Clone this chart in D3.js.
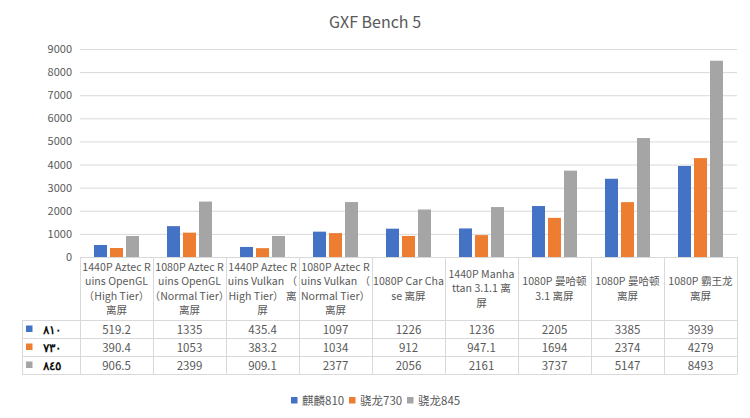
<!DOCTYPE html>
<html lang="zh-CN">
<head>
  <meta charset="utf-8" />
  <title>GXF Bench 5</title>
  <script src="https://cdn.jsdelivr.net/npm/d3@7"></script>
  <style>
    body { margin: 0; background: #fff; }
    text { font-family: "Noto Sans CJK SC", "Noto Sans", sans-serif; fill: #595959; }
  </style>
</head>
<body>
  <div id="chart"></div>
  <script>
    // 分类（表头换行按原图）
    const categoryLines = [
      ["1440P Aztec R", "uins OpenGL", "（High Tier）", "离屏"],
      ["1080P Aztec R", "uins OpenGL", "（Normal Tier）", "离屏"],
      ["1440P Aztec R", "uins Vulkan （", "High Tier） 离", "屏"],
      ["1080P Aztec R", "uins Vulkan （", "Normal Tier）", "离屏"],
      ["1080P Car Cha", "se 离屏"],
      ["1440P Manha", "ttan 3.1.1 离", "屏"],
      ["1080P 曼哈顿", "3.1 离屏"],
      ["1080P 曼哈顿", "离屏"],
      ["1080P 霸王龙", "离屏"]
    ];
    const seriesNames = ["麒麟810", "骁龙730", "骁龙845"];
    const rowLabels = ["٨١٠", "٧٣٠", "٨٤٥"];
    const kirin810 = [519.2, 1335, 435.4, 1097, 1226, 1236, 2205, 3385, 3939];
    const sd730 = [390.4, 1053, 383.2, 1034, 912, 947.1, 1694, 2374, 4279];
    const sd845 = [906.5, 2399, 909.1, 2377, 2056, 2161, 3737, 5147, 8493];
    const yTicks = [0, 1000, 2000, 3000, 4000, 5000, 6000, 7000, 8000, 9000];
    const colors = ["#4472C4", "#ED7D31", "#A5A5A5"];

    const series = [kirin810, sd730, sd845];
    const width = 750, height = 418;
    const marginLeft = 80, marginRight = 13, plotTop = 49, plotBottom = 257;

    const svg = d3.select("#chart").append("svg")
        .attr("width", width).attr("height", height);

    // 标题
    svg.append("text")
        .attr("x", 375).attr("y", 28)
        .attr("text-anchor", "middle")
        .style("font-size", "16px")
        .text("GXF Bench 5");

    const x = d3.scaleBand()
        .domain(d3.range(categoryLines.length))
        .range([marginLeft, width - marginRight]);
    const xInner = d3.scaleBand()
        .domain(d3.range(series.length))
        .range([0, x.bandwidth()])
        .paddingInner(0.1875)
        .paddingOuter(0.875);
    const y = d3.scaleLinear().domain([0, 9000]).range([plotBottom, plotTop]);

    // 网格线和 Y 轴
    svg.append("g")
        .attr("transform", `translate(${marginLeft},0)`)
        .call(d3.axisLeft(y).tickValues(yTicks).tickFormat(d3.format("d")).tickSize(0).tickPadding(8))
        .call(g => g.select(".domain").remove())
        .call(g => g.selectAll(".tick text").style("font-size", "11px").attr("fill", "#595959"))
        .call(g => g.selectAll(".tick line").clone()
            .attr("stroke", "#D9D9D9")
            .attr("x2", width - marginLeft - marginRight));

    // 柱子
    svg.append("g").selectAll("g")
      .data(series)
      .join("g")
        .attr("fill", (d, i) => colors[i])
      .selectAll("rect")
      .data((d, si) => d.map((v, ci) => ({ v, ci, si })))
      .join("rect")
        .attr("x", d => x(d.ci) + xInner(d.si))
        .attr("width", xInner.bandwidth())
        .attr("y", d => y(d.v))
        .attr("height", d => y(0) - y(d.v));

    // 数据表
    const headerBottom = 320.5, rowH = 18;
    const tableLeft = 22, tableRight = width - marginRight;
    const grid = svg.append("g").attr("stroke", "#D9D9D9").attr("fill", "none");
    grid.append("line").attr("x1", marginLeft).attr("x2", tableRight).attr("y1", plotBottom + 0.5).attr("y2", plotBottom + 0.5);
    d3.range(series.length + 1).forEach(r => {
      const yy = headerBottom + r * rowH;
      grid.append("line").attr("x1", tableLeft).attr("x2", tableRight).attr("y1", yy).attr("y2", yy);
    });
    d3.range(categoryLines.length + 1).forEach(c => {
      const xx = Math.round(marginLeft + c * x.step()) + 0.5;
      grid.append("line").attr("x1", xx).attr("x2", xx).attr("y1", plotBottom).attr("y2", headerBottom + series.length * rowH);
    });
    grid.append("line").attr("x1", tableLeft + 0.5).attr("x2", tableLeft + 0.5)
        .attr("y1", headerBottom).attr("y2", headerBottom + series.length * rowH);

    // 表头
    const headerMid = (plotBottom + headerBottom) / 2, lineH = 14.6;
    svg.append("g").selectAll("text")
      .data(categoryLines)
      .join("text")
        .attr("text-anchor", "middle")
        .style("font-size", "10.6px")
        .each(function (lines, i) {
          const t = d3.select(this);
          lines.forEach((s, k) => {
            t.append("tspan")
              .attr("x", x(i) + x.bandwidth() / 2)
              .attr("y", headerMid + (k - (lines.length - 1) / 2) * lineH)
              .attr("dy", "0.35em")
              .text(s);
          });
        });

    // 表格数值
    series.forEach((vals, si) => {
      const cy = headerBottom + si * rowH + rowH / 2;
      svg.append("rect")
          .attr("x", 26).attr("y", cy - 4).attr("width", 6.5).attr("height", 6.5)
          .attr("fill", colors[si]);
      svg.append("text")
          .attr("x", 52).attr("y", cy).attr("dy", "0.35em")
          .attr("text-anchor", "middle")
          .style("font-size", "12px").style("font-weight", "bold")
          .style("fill", "#111")
          .text(rowLabels[si]);
      svg.append("g").selectAll("text")
        .data(vals)
        .join("text")
          .attr("x", (d, i) => x(i) + x.bandwidth() / 2)
          .attr("y", cy).attr("dy", "0.35em")
          .attr("text-anchor", "middle")
          .style("font-size", "11.5px")
          .text(d => d);
    });

    // 图例
    const legend = svg.append("g").attr("transform", "translate(291,401)");
    const legendX = [0, 58, 116];
    seriesNames.forEach((name, i) => {
      legend.append("rect").attr("x", legendX[i]).attr("y", -4).attr("width", 6.5).attr("height", 6.5).attr("fill", colors[i]);
      legend.append("text").attr("x", legendX[i] + 11).attr("y", 0).attr("dy", "0.35em")
          .style("font-size", "11.5px").text(name);
    });
  </script>
</body>
</html>
